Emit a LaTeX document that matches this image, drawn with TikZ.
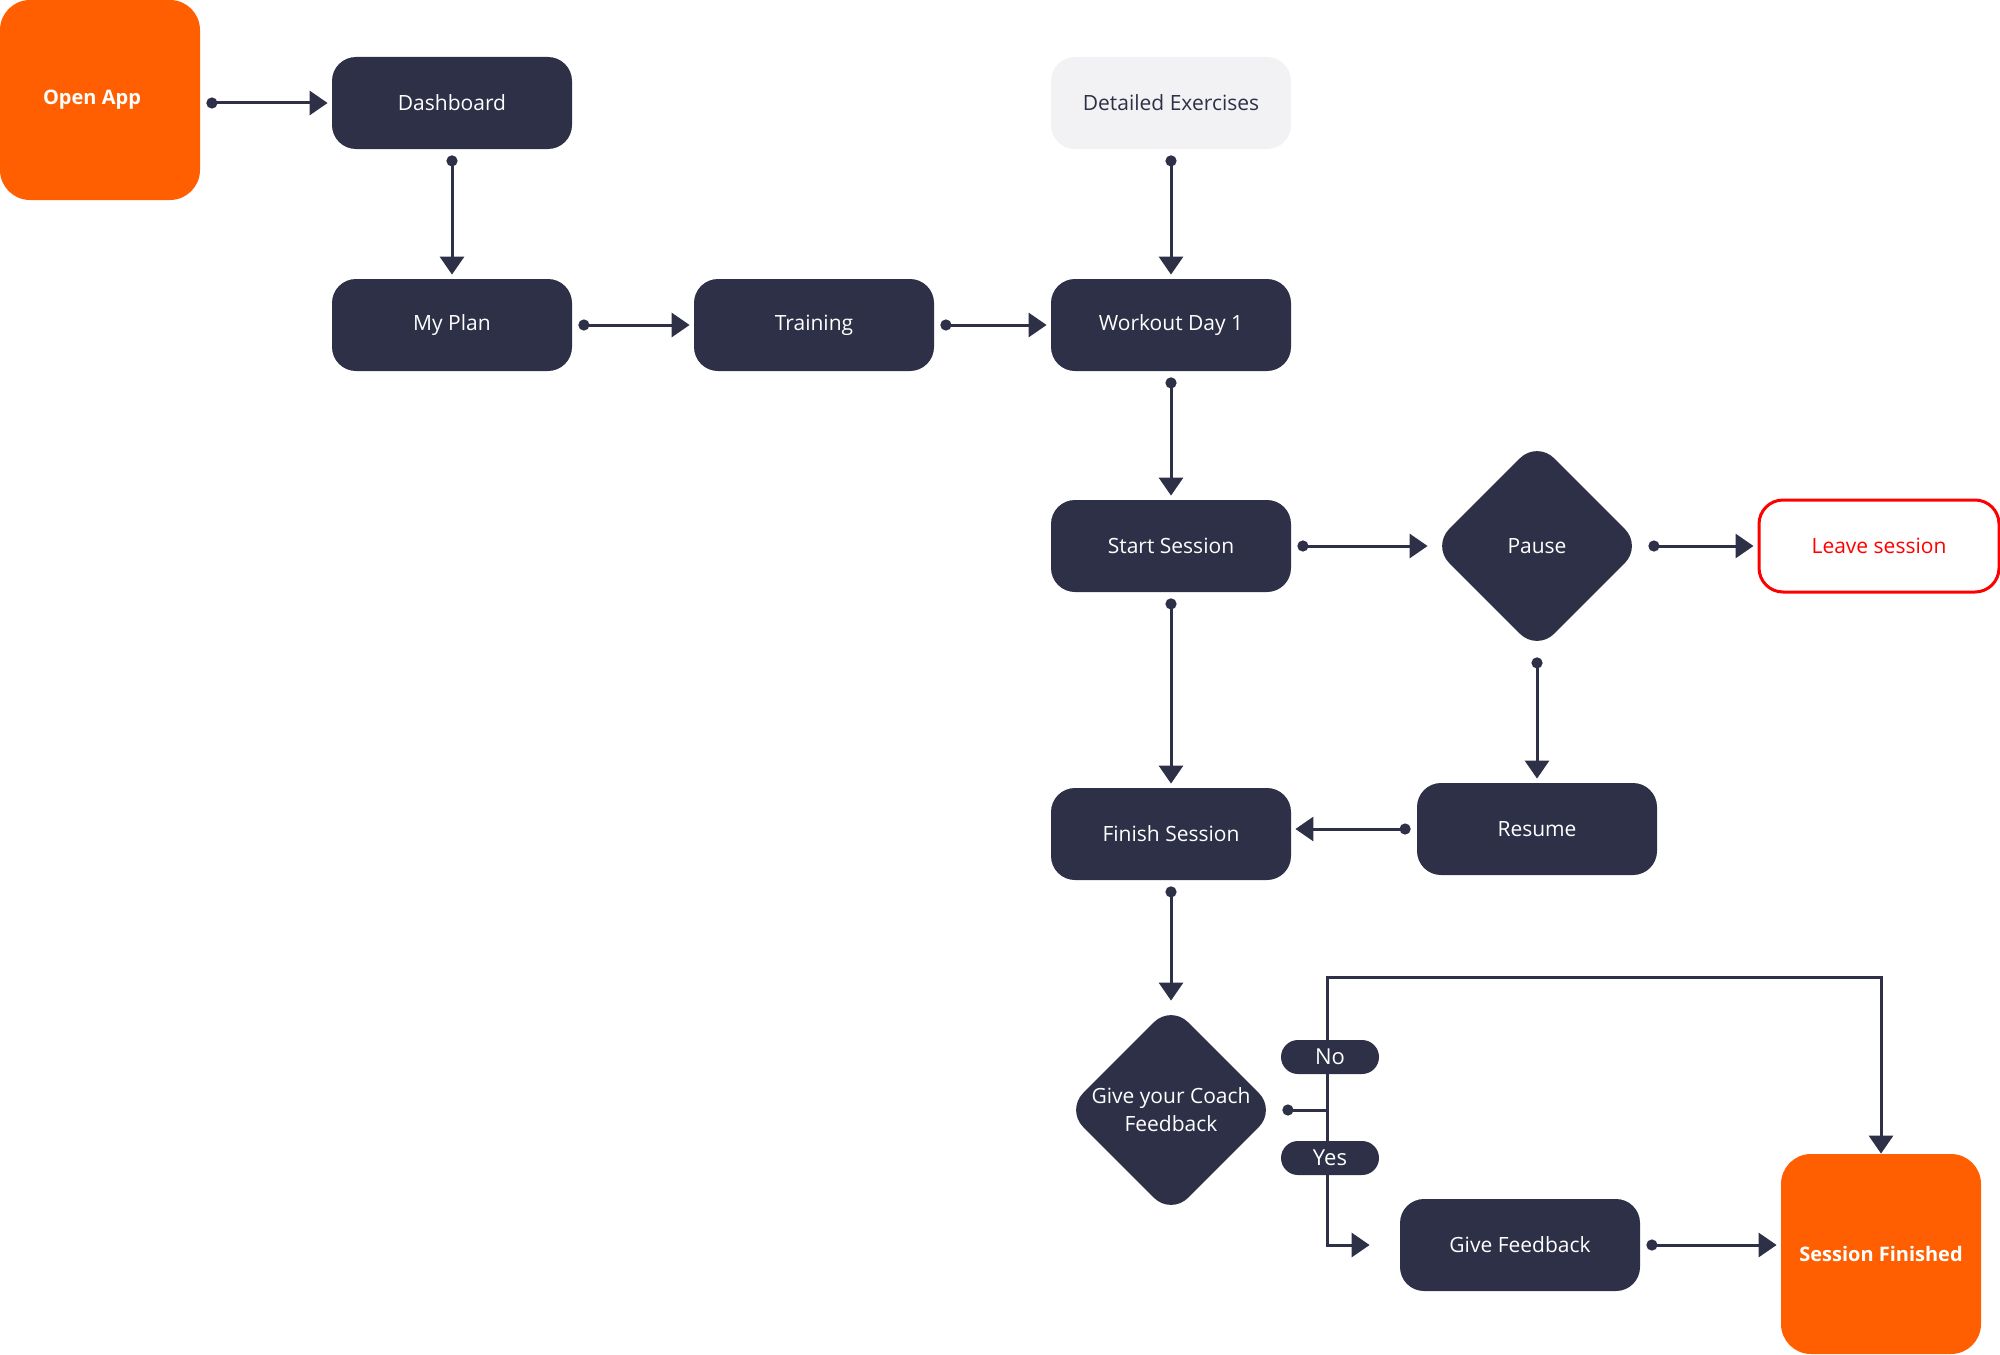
\documentclass[tikz,border=0pt]{standalone}
\usepackage{fontspec}
\setmainfont{Open Sans}
\usetikzlibrary{arrows.meta,shapes.geometric}
\definecolor{navy}{HTML}{2E3047}
\definecolor{brand}{HTML}{FF5F00}
\definecolor{pale}{HTML}{F2F2F4}
\tikzset{>={Triangle[length=9pt,width=12pt]},
  base/.style={font=\fontsize{10.5}{14}\selectfont, text=white, align=center, inner sep=0pt},
  block/.style={base, fill=navy, rounded corners=12pt, minimum width=120pt, minimum height=46pt},
  soft/.style={block, fill=pale, text=navy},
  stop/.style={block, fill=white, draw=red, line width=1.5pt, text=red},
  terminal/.style={base, fill=brand, rounded corners=15pt, minimum width=100pt, minimum height=100pt, font=\fontsize{10}{13}\selectfont\bfseries},
  decision/.style={base, diamond, aspect=1, fill=navy, rounded corners=12pt, minimum width=105pt, minimum height=105pt},
  tag/.style={base, fill=navy, rounded corners=8.5pt, minimum width=49pt, minimum height=17pt, font=\fontsize{11}{13}\selectfont},
  flow/.style={draw=navy, line width=1.5pt, {Circle[length=5.5pt]}->, shorten <=3pt, shorten >=2pt},
  wire/.style={draw=navy, line width=1.5pt}}
\begin{document}
\begin{tikzpicture}[x=0.5pt,y=-0.5pt]
  \useasboundingbox (0,0) rectangle (2000,1354);
  \node[terminal] (open) at (100,100) {Open App\hspace*{8pt}};
  \node[block] (dash) at (452,103) {Dashboard};
  \node[block] (plan) at (452,325) {My Plan};
  \node[block] (train) at (814,325) {Training};
  \node[soft] (detail) at (1171,103) {Detailed Exercises};
  \node[block] (wday) at (1171,325) {Workout Day 1};
  \node[block] (start) at (1171,546) {Start Session};
  \node[decision] (pause) at (1537,546) {Pause};
  \node[stop] (leave) at (1879,546) {Leave session};
  \node[block] (resume) at (1537,829) {Resume};
  \node[block] (finish) at (1171,834) {Finish Session};
  \node[decision] (coach) at (1171,1110) {Give your Coach\\Feedback};
  \node[block] (gfb) at (1520,1245) {Give Feedback};
  \node[terminal] (sfin) at (1881,1254) {Session Finished};
  \coordinate (j) at (1327,1110);
  \coordinate (jtop) at (1327,977);
  % connectors
  \draw[flow] (open.east |- dash.west) -- (dash.west);
  \draw[flow] (dash) -- (plan);
  \draw[flow] (plan) -- (train);
  \draw[flow] (train) -- (wday);
  \draw[flow] (detail) -- (wday);
  \draw[flow] (wday) -- (start);
  \draw[flow] (start) -- (pause);
  \draw[flow] (pause) -- (leave);
  \draw[flow] (pause) -- (resume);
  \draw[flow] (start) -- (finish);
  \draw[flow] (resume.west) -- (resume.west -| finish.east);
  \draw[flow] (finish) -- (coach);
  \draw[flow] (gfb.east) -- (gfb.east -| sfin.west);
  % branch
  \draw[wire, {Circle[length=5.5pt]}-, shorten <=3pt] (coach.east) -- (j);
  \draw[wire, ->] (j) -- (jtop) -| (sfin.north);
  \draw[wire, ->, shorten >=15pt] (j) |- (gfb.west);
  \node[tag] (no) at (1330,1057) {No};
  \node[tag] (yes) at (1330,1158) {Yes};
\end{tikzpicture}
\end{document}
